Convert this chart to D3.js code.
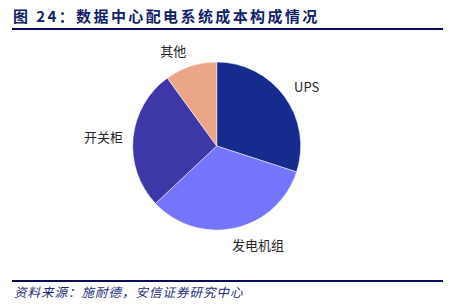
<!DOCTYPE html>
<html><head><meta charset="utf-8">
<script src="https://cdn.jsdelivr.net/npm/d3@7"></script>
<style>
html,body{margin:0;padding:0;background:#fff;}
svg{display:block;}
</style></head>
<body>
<script>
const categories = ["UPS", "发电机组", "开关柜", "其他"];
const shares = [30, 33, 27, 10];
const colors = ["#152b8e", "#7575fb", "#3d37a8", "#eba689"];
const titleText = "图 24：数据中心配电系统成本构成情况";
const sourceText = "资料来源：施耐德，安信证券研究中心";

const W = 457, H = 308;
const svg = d3.select("body").append("svg").attr("width", W).attr("height", H);

// title
svg.append("text").attr("x", 13).attr("y", 22)
  .attr("font-family", "'Noto Sans CJK SC', sans-serif")
  .attr("font-weight", "bold").attr("font-size", 15)
  .attr("letter-spacing", 2.4)
  .attr("fill", "#10216a").text(titleText);
svg.append("rect").attr("x", 12).attr("y", 28).attr("width", 431).attr("height", 2).attr("fill", "#0b0b5c");

// footer
svg.append("rect").attr("x", 12).attr("y", 280).attr("width", 431).attr("height", 2).attr("fill", "#0b0b5c");
svg.append("text").attr("x", 14).attr("y", 297)
  .attr("font-family", "'Noto Sans CJK SC', sans-serif")
  .attr("font-style", "italic").attr("font-size", 12.5)
  .attr("letter-spacing", 1)
  .attr("fill", "#1a2a7a")
  .text(sourceText);

// pie
const cx = 216.7, cy = 146, r = 84;
const data = categories.map((c, i) => ({cat: c, v: shares[i], col: colors[i]}));
const pie = d3.pie().sort(null).value(d => d.v);
const arc = d3.arc().innerRadius(0).outerRadius(r);
const g = svg.append("g").attr("transform", `translate(${cx},${cy})`);
const arcs = pie(data);
g.selectAll("path").data(arcs).join("path")
  .attr("d", arc).attr("fill", d => d.data.col)
  .attr("stroke", "#fff").attr("stroke-width", 0.5);

const lr = 92;
g.selectAll("text.lbl").data(arcs).join("text").attr("class", "lbl")
  .each(function(d) {
    const a = (d.startAngle + d.endAngle) / 2;
    const s = Math.sin(a), c = Math.cos(a);
    const x = lr * s + (s > 0 ? 3 - 8 * Math.max(0, -c) : -2);
    const y = -lr * c - 8.5 * c;
    d3.select(this).attr("x", x).attr("y", y)
      .attr("text-anchor", s > 0 ? "start" : "end")
      .attr("dominant-baseline", "central");
  })
  .attr("font-family", "'Noto Sans CJK SC', sans-serif")
  .attr("font-size", 13).attr("fill", "#262626")
  .text(d => d.data.cat);
</script>
</body></html>
